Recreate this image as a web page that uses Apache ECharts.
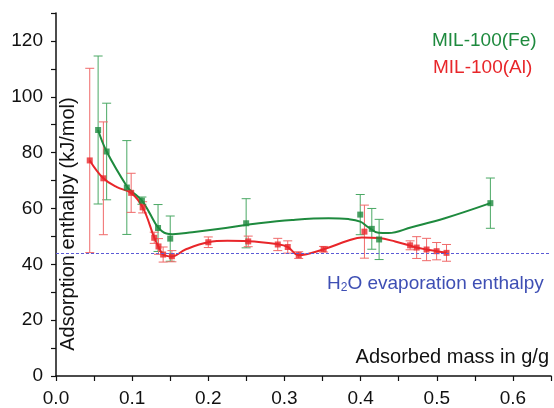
<!DOCTYPE html>
<html>
<head>
<meta charset="utf-8">
<script src="https://cdn.jsdelivr.net/npm/echarts@6/dist/echarts.min.js"></script>
<style>
  html, body { margin: 0; padding: 0; background: #fff; }
  #chart { width: 554px; height: 408px; }
</style>
</head>
<body>
<div id="chart"></div>
<script>
// MIL-100(Fe): measured points and error (+/-)
const feX   = [0.0553, 0.0665, 0.0930, 0.1128, 0.1340, 0.1500, 0.2497, 0.3995, 0.4147, 0.4243, 0.5704]
const feY   = [88.1, 80.4, 67.5, 62.8, 53.0, 49.2, 54.7, 57.8, 52.7, 48.9, 61.9]
const feErr = [26.5, 17.3, 16.8, 1.3, 8.4, 8.1, 8.8, 7.2, 7.3, 7.2, 9.0]

// MIL-100(Al): measured points and error (+/-)
const alX   = [0.0443, 0.0622, 0.0987, 0.1138, 0.1290, 0.1346, 0.1407, 0.1522, 0.2000, 0.2524,
               0.2912, 0.3043, 0.3187, 0.3514, 0.4050, 0.4650, 0.4736, 0.4866, 0.4998, 0.5128]
const alY   = [77.2, 70.8, 65.6, 60.4, 49.5, 46.4, 43.5, 42.9, 47.9, 48.2,
               47.1, 46.2, 43.3, 45.4, 51.7, 46.8, 46.0, 45.3, 44.7, 44.1]
const alErr = [33.0, 20.2, 7.0, 2.0, 2.0, 2.8, 2.7, 2.0, 1.9, 1.9,
               2.2, 2.2, 1.2, 1.0, 9.5, 1.6, 3.9, 4.0, 3.1, 3.0]

// fitted curves
const feFitX = [0.0553, 0.0665, 0.0940, 0.1000, 0.1128, 0.1224, 0.1338, 0.1450, 0.1530, 0.1790, 0.2228,
                0.2664, 0.3100, 0.3580, 0.3840, 0.3995, 0.4100, 0.4234, 0.4365, 0.4670, 0.5107, 0.5704]
const feFitY = [88.1, 80.4, 67.5, 66.0, 62.8, 58.6, 53.3, 51.0, 50.8, 51.5, 53.0,
                54.7, 55.9, 56.5, 56.2, 55.3, 53.3, 51.3, 51.2, 53.3, 56.5, 61.9]
const alFitX = [0.0443, 0.0622, 0.0800, 0.0990, 0.1140, 0.1290, 0.1346, 0.1407, 0.1520, 0.1700, 0.2000,
                0.2250, 0.2524, 0.2912, 0.3043, 0.3187, 0.3514, 0.3840, 0.4016, 0.4234, 0.4453,
                0.4650, 0.4736, 0.4866, 0.4998, 0.5128]
const alFitY = [77.2, 70.8, 67.6, 65.5, 60.3, 49.6, 46.3, 43.5, 42.8, 45.3, 47.9,
                48.4, 48.3, 47.2, 46.2, 43.3, 45.4, 48.5, 49.6, 49.4, 48.2,
                46.7, 46.0, 45.3, 44.7, 44.1]

const waterEnthalpy = 44

const GREEN = '#1e8a3e'
const RED = '#e8262a'
const BLUE = '#3e4fb4'
const FONT = '"Liberation Sans", Arial, sans-serif'

const zip = (xs, ys) => xs.map((x, i) => [x, ys[i]])
const errData = (xs, ys, es) => xs.map((x, i) => [x, ys[i] - es[i], ys[i] + es[i]])

function errorBars(color) {
  return function (params, api) {
    const x = api.value(0)
    const top = api.coord([x, api.value(2)])
    const bot = api.coord([x, api.value(1)])
    const w = 4.5
    const style = { stroke: color, lineWidth: 1 }
    return {
      type: 'group',
      children: [
        { type: 'line', shape: { x1: top[0], y1: top[1], x2: bot[0], y2: bot[1] }, style },
        { type: 'line', shape: { x1: top[0] - w, y1: top[1], x2: top[0] + w, y2: top[1] }, style },
        { type: 'line', shape: { x1: bot[0] - w, y1: bot[1], x2: bot[0] + w, y2: bot[1] }, style }
      ]
    }
  }
}

const chart = echarts.init(document.getElementById('chart'))

chart.setOption({
  animation: false,
  grid: { left: 56, right: 2, top: 13, bottom: 30 },
  xAxis: {
    type: 'value',
    min: 0,
    max: 0.65,
    interval: 0.05,
    splitLine: { show: false },
    axisLine: { onZero: false, lineStyle: { color: '#111', width: 1.5 } },
    axisTick: { length: 5, lineStyle: { color: '#111', width: 1.2 } },
    axisLabel: {
      margin: 13,
      color: '#111',
      fontSize: 19,
      fontFamily: FONT,
      formatter: v => (Math.round(v * 20) % 2 === 0 ? v.toFixed(1) : '')
    }
  },
  yAxis: {
    type: 'value',
    min: 0,
    max: 130,
    interval: 10,
    splitLine: { show: false },
    axisLine: { show: true, lineStyle: { color: '#111', width: 1.5 } },
    axisTick: { show: true, length: 5, lineStyle: { color: '#111', width: 1.2 } },
    axisLabel: {
      margin: 13,
      color: '#111',
      fontSize: 19,
      fontFamily: FONT,
      formatter: v => (Math.round(v) % 20 === 0 ? String(v) : '')
    }
  },
  graphic: [
    {
      type: 'text', left: 432, top: 31,
      style: { text: 'MIL-100(Fe)', fill: GREEN, fontSize: 19, fontFamily: FONT }
    },
    {
      type: 'text', left: 433, top: 58,
      style: { text: 'MIL-100(Al)', fill: RED, fontSize: 19, fontFamily: FONT }
    },
    {
      type: 'text', left: 327, top: 273,
      style: {
        text: '{n|H}{s|2}{n|O evaporation enthalpy}',
        rich: {
          n: { fontSize: 19, fontFamily: FONT, fill: BLUE, lineHeight: 24 },
          s: { fontSize: 12, fontFamily: FONT, fill: BLUE, lineHeight: 24, padding: [9, 0, 0, 0] }
        }
      }
    },
    {
      type: 'text', right: 5, top: 347,
      style: { text: 'Adsorbed mass in g/g', fill: '#111', fontSize: 20, fontFamily: FONT }
    },
    {
      type: 'text', x: 68, y: 224, rotation: Math.PI / 2,
      style: {
        text: 'Adsorption enthalpy (kJ/mol)', fill: '#111', fontSize: 20, fontFamily: FONT,
        align: 'center', verticalAlign: 'middle'
      }
    }
  ],
  series: [
    {
      type: 'custom',
      name: 'Fe error',
      renderItem: errorBars('#4aa864'),
      encode: { x: 0, y: [1, 2] },
      data: errData(feX, feY, feErr),
      z: 1
    },
    {
      type: 'custom',
      name: 'Al error',
      renderItem: errorBars('#f06a6a'),
      encode: { x: 0, y: [1, 2] },
      data: errData(alX, alY, alErr),
      z: 1
    },
    {
      type: 'line',
      name: 'Fe fit',
      data: zip(feFitX, feFitY),
      smooth: 0.4,
      showSymbol: false,
      lineStyle: { color: GREEN, width: 2 },
      z: 2,
      markLine: {
        silent: true,
        symbol: 'none',
        label: { show: false },
        lineStyle: { color: '#5b5bd6', width: 1, type: [3, 2] },
        data: [{ yAxis: waterEnthalpy }]
      }
    },
    {
      type: 'line',
      name: 'Al fit',
      data: zip(alFitX, alFitY),
      smooth: 0.4,
      showSymbol: false,
      lineStyle: { color: RED, width: 2 },
      z: 2
    },
    {
      type: 'scatter',
      name: 'MIL-100(Fe)',
      data: zip(feX, feY),
      symbol: 'rect',
      symbolSize: 6,
      itemStyle: { color: GREEN },
      z: 3
    },
    {
      type: 'scatter',
      name: 'MIL-100(Al)',
      data: zip(alX, alY),
      symbol: 'rect',
      symbolSize: 6,
      itemStyle: { color: RED },
      z: 3
    }
  ]
})
</script>
</body>
</html>
